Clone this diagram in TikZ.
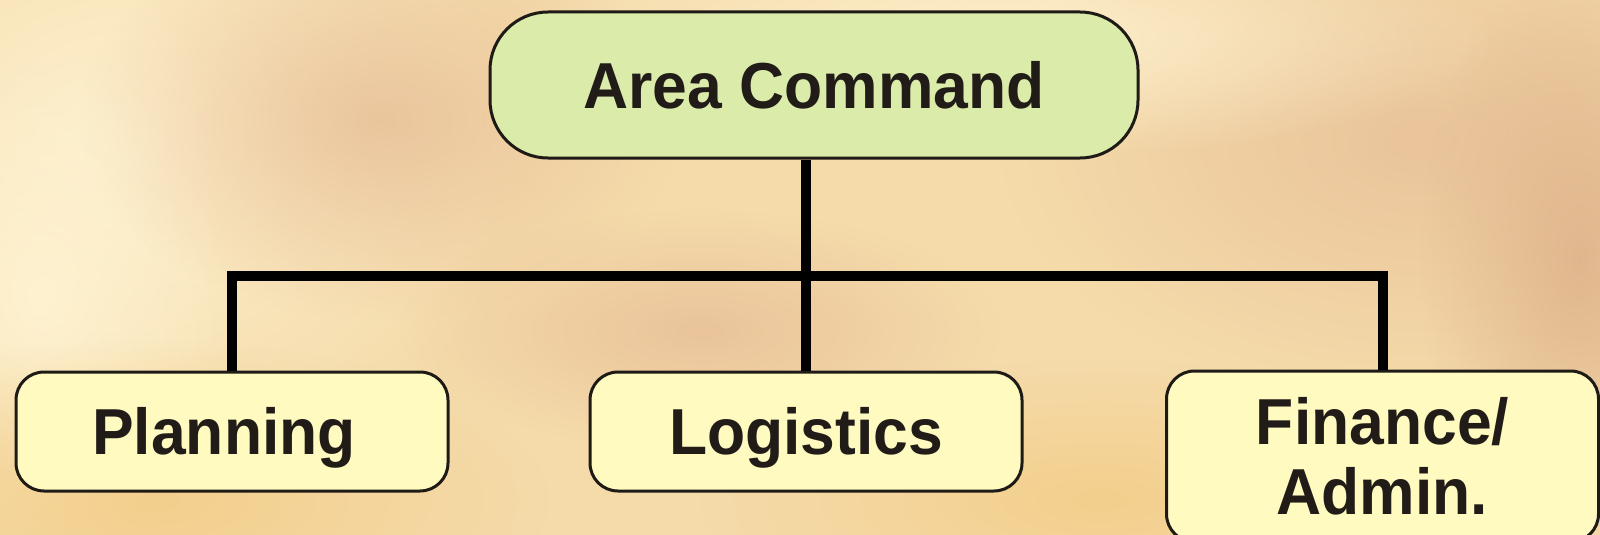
\documentclass[tikz,border=0pt]{standalone}
\usepackage{fontspec}
\newfontfamily\boxfont{Liberation Sans}[FakeStretch=0.96]
\usetikzlibrary{fadings}
\definecolor{bgbase}{RGB}{245,219,170}
\definecolor{bglight}{RGB}{255,244,212}
\definecolor{bgtan}{RGB}{232,192,152}
\definecolor{bggold}{RGB}{243,205,135}
\definecolor{bgdark}{RGB}{222,178,138}
\definecolor{topfill}{RGB}{219,235,170}
\definecolor{subfill}{RGB}{255,250,192}
\definecolor{edge}{RGB}{30,26,22}
\definecolor{txt}{RGB}{33,28,24}
\tikzfading[name=softblob, inner color=transparent!15, outer color=transparent!100]
\begin{document}
\begin{tikzpicture}[x=1pt,y=-1pt,
  blob/.style={path fading=softblob},
  boxstyle/.style={draw=edge, line width=3pt, inner sep=0pt, text=txt,
    font={\boxfont\bfseries\fontsize{65}{70}\selectfont}},
  topbox/.style={boxstyle, fill=topfill, rounded corners=58pt,
    minimum width=648pt, minimum height=146pt, text height=46.5pt, text depth=0pt},
  subbox/.style={boxstyle, fill=subfill, rounded corners=28pt,
    minimum width=432pt, minimum height=119pt},
  single/.style={text height=46.5pt, text depth=0pt},
  wire/.style={line width=10pt, black, line join=miter, line cap=butt}]
\useasboundingbox (0,0) rectangle (1600,535);
% background
\fill[bgbase] (0,0) rectangle (1600,535);
\begin{scope}
\clip (0,0) rectangle (1600,535);
\fill[bglight, blob] (120,140) ellipse [x radius=420, y radius=360];
\fill[bglight, blob] (40,300) ellipse [x radius=200, y radius=260];
\fill[bgtan, blob] (380,120) ellipse [x radius=300, y radius=200];
\fill[bgtan, blob] (1420,140) ellipse [x radius=420, y radius=260];
\fill[bgdark, blob] (1580,260) ellipse [x radius=160, y radius=300];
\fill[bggold, blob] (150,500) ellipse [x radius=400, y radius=160];
\fill[bggold, blob] (1100,500) ellipse [x radius=400, y radius=140];
\fill[bglight, blob] (1000,40) ellipse [x radius=500, y radius=120];
\fill[bgtan, blob] (700,330) ellipse [x radius=300, y radius=120];
\end{scope}
% nodes
\node[topbox] (top) at (814,85) {Area Command};
\node[subbox, single] (plan) at (232,431.5) {Planning\hspace*{16pt}};
\node[subbox, single] (logi) at (806,431.5) {Logistics};
\node[subbox, align=center, minimum height=171pt] (fin) at (1382.5,456.5) {Finance/\\Admin.};
% connectors
\coordinate (bar) at (0,275.5);
\draw[wire] (logi.north) -- (logi.north |- top.south);
\draw[wire] (plan.north) -- (plan.north |- bar) -- (fin.north |- bar) -- (fin.north);
\end{tikzpicture}
\end{document}
